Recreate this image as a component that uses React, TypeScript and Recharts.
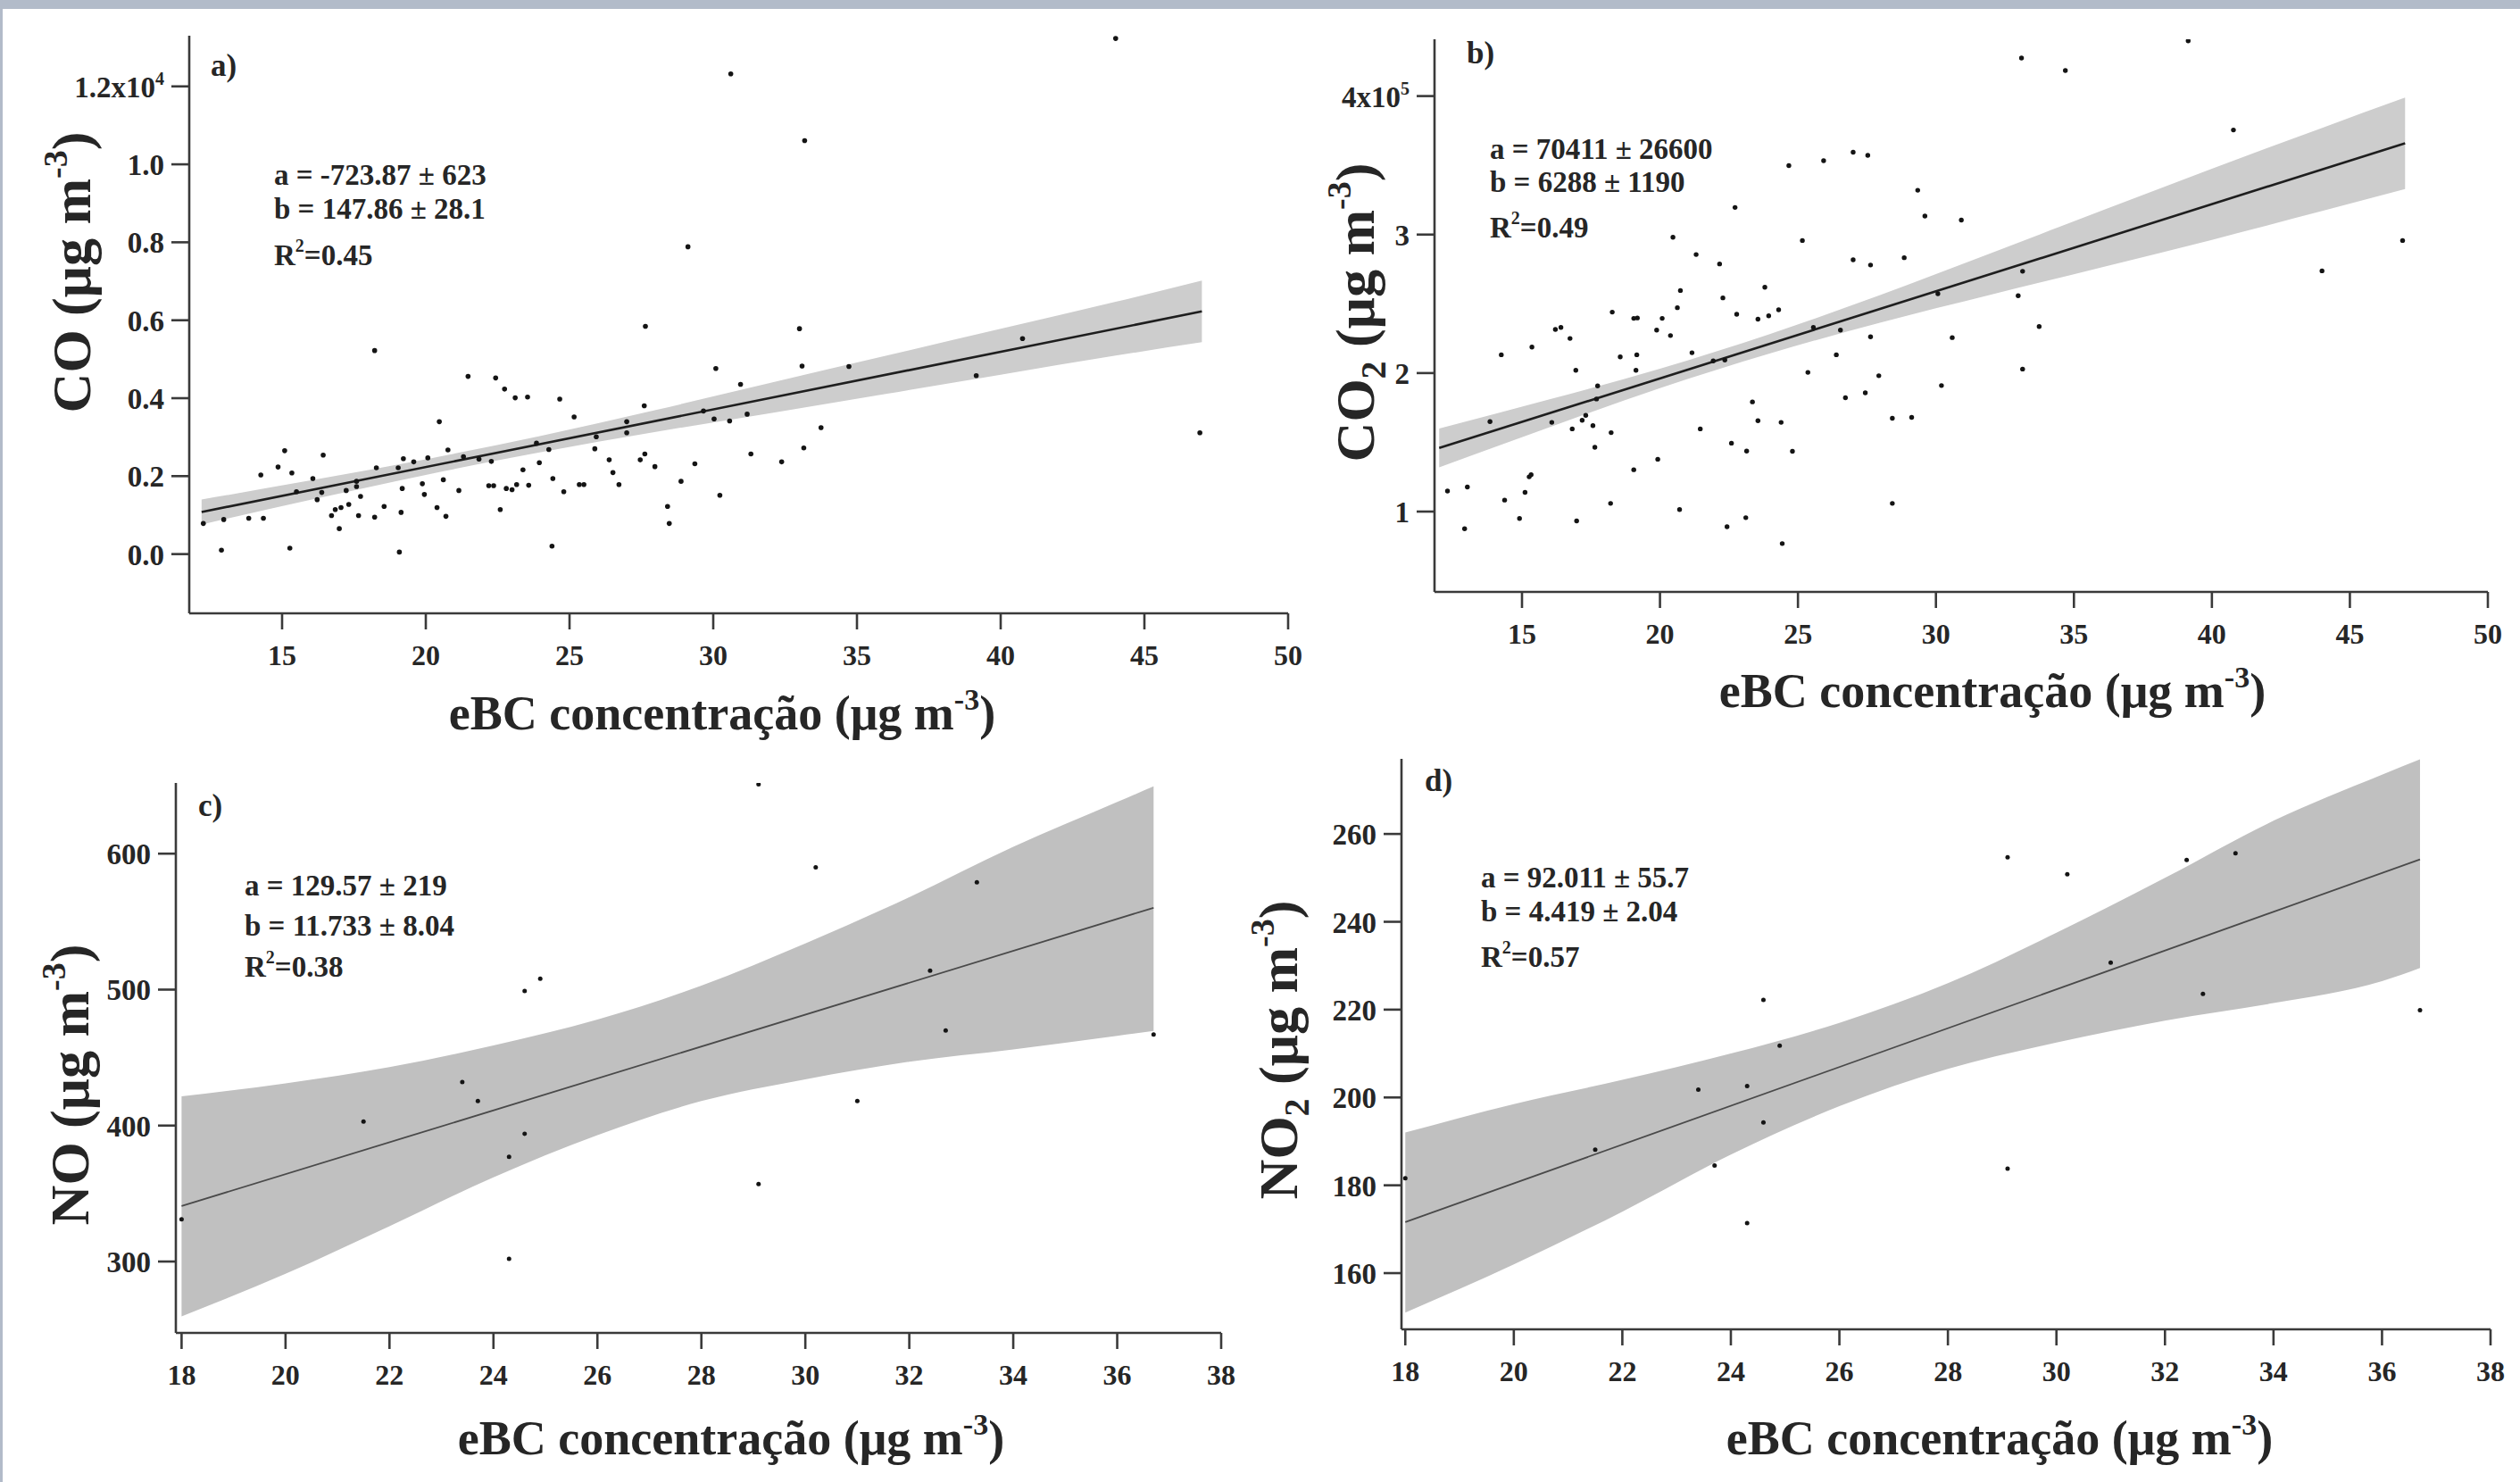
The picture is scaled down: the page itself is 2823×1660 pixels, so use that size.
import React from "react";
import { ComposedChart, Scatter, Line, Area, XAxis, YAxis } from "recharts";

const SERIF = "'Liberation Serif', 'Times New Roman', Times, serif";
const INK = "#262626";
const AXIS = "#3a3a3a";
const FRAME = "#b2bbc9";

// a) CO vs eBC
const ebcCO = [
  12.26, 12.89, 12.97, 13.84, 14.35, 14.26, 14.86, 15.09, 15.27, 15.34,
  15.5, 16.07, 16.22, 16.38, 16.43, 16.72, 16.85, 16.99, 17.05, 17.23,
  17.32, 17.59, 17.66, 17.73, 17.59, 18.22, 18.22, 18.28, 18.55, 19.04,
  19.08, 19.14, 19.18, 19.22, 19.58, 19.88, 19.95, 20.07, 20.39, 20.47,
  20.61, 20.7, 20.77, 21.15, 21.31, 21.47, 21.85, 22.19, 22.28, 22.36,
  22.43, 22.59, 22.74, 22.8, 23.0, 23.11, 23.16, 23.38, 23.54, 23.58,
  23.85, 23.95, 24.28, 24.39, 24.42, 24.66, 24.8, 25.16, 25.34, 25.5,
  25.88, 25.93, 26.38, 26.51, 26.72, 26.99, 26.99, 27.46, 27.6, 27.64,
  27.62, 27.97, 28.41, 28.47, 28.88, 29.12, 29.36, 29.66, 30.03, 30.09,
  30.23, 30.57, 30.61, 30.95, 31.18, 31.31, 32.38, 33.15, 33.75, 33.18,
  33.0, 33.09, 34.72, 39.15, 40.76, 44.0, 46.93,
];
const coValues = [
  785, 102, 887, 918, 918, 2030, 2234, 2652, 153, 2081,
  1601, 1938, 1397, 1581, 2540, 989, 1142, 653, 1193, 1632,
  1275, 1867, 989, 1479, 1734, 5222, 949, 2213, 1224, 2213,
  51, 1071, 1683, 2448, 2366, 1805, 1530, 2468, 1193, 3397,
  1907, 969, 2672, 1632, 2499, 4559, 2438, 1754, 2377, 1754,
  4519, 1142, 4233, 1683, 1652, 4009, 1785, 2162, 4029, 1765,
  2846, 2346, 2683, 204, 1938, 3978, 1601, 3519, 1785, 1785,
  2703, 3009, 2417, 2091, 1785, 3397, 3111, 2417, 3805, 5845,
  2570, 2244, 1224, 785, 1867, 7885, 2315, 3672, 3468, 4763,
  1510, 3417, 12322, 4355, 3590, 2570, 2366, 2723, 3244, 10608,
  5783, 4825, 4814, 4580, 5528, 13229, 3111,
];
const coFitX = [12.2, 47];
const coFitY = [1080, 6226];
const coBandX = [12.2, 16, 20, 24, 28, 32, 36, 40, 44, 47];
const coBandLo = [760, 1392, 2033, 2615, 3136, 3618, 4109, 4601, 5092, 5436];
const coBandHi = [1400, 1892, 2433, 3035, 3696, 4398, 5089, 5781, 6472, 7016];

// b) CO2 vs eBC
const ebcCO2 = [
  12.3, 12.92, 13.02, 13.84, 14.25, 14.37, 14.91, 15.11, 15.26, 15.33,
  15.36, 16.08, 16.21, 16.41, 16.74, 16.82, 16.95, 16.98, 17.18, 17.31,
  17.57, 17.64, 17.7, 17.74, 18.21, 18.23, 18.27, 18.56, 19.05, 19.05,
  19.18, 19.16, 19.13, 19.92, 19.88, 20.08, 20.38, 20.47, 20.63, 20.71,
  20.74, 21.16, 21.31, 21.46, 21.93, 22.16, 22.28, 22.35, 22.43, 22.59,
  22.72, 22.78, 23.11, 23.14, 23.35, 23.55, 23.55, 23.8, 23.94, 24.3,
  24.39, 24.43, 24.67, 24.8, 25.16, 25.36, 25.56, 25.93, 26.39, 26.54,
  26.72, 27.0, 27.0, 27.44, 27.53, 27.63, 27.63, 27.93, 28.42, 28.42,
  28.85, 29.12, 29.34, 29.6, 30.07, 30.2, 30.59, 30.92, 32.98, 33.1,
  33.14, 33.14, 33.74, 34.69, 39.14, 40.78, 43.99, 46.91,
];
const co2Values = [
  114800, 87600, 117700, 165000, 213200, 108300, 95000, 113900, 125100, 126600,
  218800, 164400, 231500, 233000, 225000, 159700, 202000, 93200, 165900, 169500,
  162100, 146400, 181300, 190700, 105900, 157000, 244000, 211700, 130200, 239500,
  239800, 213200, 202000, 137800, 231000, 239500, 227100, 298100, 247200, 101500,
  259600, 214700, 285600, 159700, 208800, 278800, 254300, 209400, 89100, 149400,
  319600, 242500, 95600, 143700, 179200, 165600, 238900, 262000, 241300, 245700,
  164400, 76900, 349800, 143500, 295700, 200500, 233000, 353300, 213200, 231000,
  182200, 281800, 359500, 185700, 357200, 278000, 226200, 198100, 105900, 167400,
  283300, 168000, 332000, 313400, 257300, 191000, 225600, 310500, 255800, 427500,
  273500, 202900, 233600, 418400, 439900, 375500, 273800, 295700,
];
const co2FitX = [12, 47];
const co2FitY = [145867, 365947];
const co2BandX = [12, 16, 20, 24, 28, 32, 36, 40, 44, 47];
const co2BandLo = [131900, 161000, 189200, 214300, 236500, 256600, 276300, 296200, 317100, 332900];
const co2BandHi = [159900, 181000, 203200, 228300, 256500, 286600, 317300, 347600, 377100, 398900];

// c) NO and d) NO2 vs eBC (same sampling times)
const ebcHourly = [18.0, 21.5, 23.4, 23.7, 24.3, 24.3, 24.6, 24.6, 24.9, 29.1, 29.1, 30.2, 31.0, 32.4, 32.7, 33.3, 36.7];
const noValues = [331, 403, 432, 418, 377, 302, 499, 394, 508, 651, 357, 590, 418, 514, 470, 579, 467];
const no2Values = [181.6, 188.1, 201.8, 184.5, 202.6, 171.4, 222.2, 194.3, 211.8, 254.7, 183.8, 250.8, 230.7, 254.1, 223.6, 255.6, 219.9];

const hourlyFitX = [18, 36.7];
const noFitY = [340.8, 560.2];
const no2FitY = [171.6, 254.2];
const hourlyBandX = [18, 20, 22, 24, 26, 28, 30, 32, 34, 36, 36.7];
const noBandLo = [259.7, 291, 326, 362, 393, 418, 434, 447, 456, 466, 469.6];
const noBandHi = [421.5, 431, 443, 459, 478, 503, 534, 568, 605, 638, 649.5];
const no2BandLo = [151, 162, 174, 187, 198, 206.5, 212.5, 217.5, 221.5, 226.5, 229.5];
const no2BandHi = [192, 198.5, 204, 210, 217, 226, 237.5, 250, 263, 273.5, 277];

const pts = (xs: number[], ys: number[]) => xs.map((x, i) => ({ x, y: ys[i] }));
const bandRows = (xs: number[], lo: number[], hi: number[]) => xs.map((x, i) => ({ x, y: [lo[i], hi[i]] }));

type Box = { left: number; top: number; right: number; bottom: number };

const YW = 190;
const XH = 80;
const MT = 8;
const MR = 34;

function yTick(fmt: (v: number) => [string, string?]) {
  return (props: any) => {
    const { x, y, payload } = props;
    const [main, sup] = fmt(payload.value);
    return (
      <text x={x} y={y} dy={12} textAnchor="end" fontFamily={SERIF} fontWeight="bold" fontSize={33} fill={INK}>
        {main}
        {sup ? (
          <tspan dy={-14} fontSize={20}>
            {sup}
          </tspan>
        ) : null}
      </text>
    );
  };
}

function Panel(p: {
  box: Box;
  xDomain: [number, number];
  xTicks: number[];
  yDomain: [number, number];
  yTicks: number[];
  fmt: (v: number) => [string, string?];
  points: any[];
  fit: any[];
  band: any[];
  bandFill: string;
  lineColor: string;
  lineWidth: number;
  dotR: number;
}) {
  const width = p.box.right - p.box.left + YW + MR;
  const height = p.box.bottom - p.box.top + MT + XH;
  const axisStyle = { stroke: AXIS, strokeWidth: 2.6 };
  return (
    <div style={{ position: "absolute", left: p.box.left - YW, top: p.box.top - MT }}>
      <ComposedChart width={width} height={height} margin={{ top: MT, right: MR, bottom: 0, left: 0 }}>
        <XAxis
          type="number"
          dataKey="x"
          domain={p.xDomain}
          ticks={p.xTicks}
          interval={0}
          allowDataOverflow
          height={XH}
          tickSize={18}
          tickMargin={17}
          axisLine={axisStyle}
          tickLine={axisStyle}
          tick={{ fontFamily: SERIF, fontWeight: "bold", fontSize: 32, fill: INK }}
        />
        <YAxis
          type="number"
          dataKey="y"
          domain={p.yDomain}
          ticks={p.yTicks}
          interval={0}
          allowDataOverflow
          width={YW}
          tickSize={20}
          tickMargin={8}
          axisLine={axisStyle}
          tickLine={axisStyle}
          tick={yTick(p.fmt)}
        />
        <Area data={p.band} dataKey="y" type="monotone" stroke="none" fill={p.bandFill} fillOpacity={1} isAnimationActive={false} />
        <Line
          data={p.fit}
          dataKey="y"
          type="linear"
          stroke={p.lineColor}
          strokeWidth={p.lineWidth}
          dot={false}
          activeDot={false}
          isAnimationActive={false}
        />
        <Scatter
          data={p.points}
          dataKey="y"
          isAnimationActive={false}
          shape={(s: any) => <circle cx={s.cx} cy={s.cy} r={p.dotR} fill="#141414" />}
        />
      </ComposedChart>
    </div>
  );
}

function Stats({ x, ys, a, b, r2 }: { x: number; ys: number[]; a: string; b: string; r2: string }) {
  const common = { fontFamily: SERIF, fontWeight: "bold" as const, fontSize: 33, fill: INK };
  return (
    <g>
      <text x={x} y={ys[0]} {...common}>{a}</text>
      <text x={x} y={ys[1]} {...common}>{b}</text>
      <text x={x} y={ys[2]} {...common}>
        R<tspan dy={-15} fontSize={20}>2</tspan>
        <tspan dy={15}>{r2}</tspan>
      </text>
    </g>
  );
}

function YTitle({ cx, cy, species, sub }: { cx: number; cy: number; species: string; sub?: string }) {
  return (
    <text
      transform={`translate(${cx},${cy}) rotate(-90)`}
      textAnchor="middle"
      dy={21}
      fontFamily={SERIF}
      fontWeight="bold"
      fontSize={62}
      fill={INK}
    >
      {species}
      {sub ? (
        <tspan dy={13} fontSize={40}>
          {sub}
        </tspan>
      ) : null}
      <tspan dy={sub ? -13 : 0}> (μg m</tspan>
      <tspan dy={-26} fontSize={38}>-3</tspan>
      <tspan dy={26}>)</tspan>
    </text>
  );
}

function XTitle({ cx, y }: { cx: number; y: number }) {
  return (
    <text x={cx} y={y} textAnchor="middle" fontFamily={SERIF} fontWeight="bold" fontSize={54} fill={INK}>
      eBC concentração (μg m<tspan dy={-22} fontSize={34}>-3</tspan>
      <tspan dy={22}>)</tspan>
    </text>
  );
}

function Letter({ x, y, t }: { x: number; y: number; t: string }) {
  return (
    <text x={x} y={y} fontFamily={SERIF} fontWeight="bold" fontSize={35} fill={INK}>
      {t}
    </text>
  );
}

const coFmt = (v: number): [string, string?] => (v === 12000 ? ["1.2x10", "4"] : [(v / 10000).toFixed(1)]);
const co2Fmt = (v: number): [string, string?] => (v === 400000 ? ["4x10", "5"] : [String(v / 100000)]);
const plainFmt = (v: number): [string, string?] => [String(v)];

export default function App() {
  return (
    <div style={{ position: "absolute", left: 0, top: 0, width: 2823, height: 1660, background: "#fff", overflow: "hidden" }}>
      <div style={{ position: "absolute", left: 0, top: 0, width: 2823, height: 10, background: FRAME }} />
      <div style={{ position: "absolute", left: 0, top: 0, width: 3, height: 1660, background: FRAME }} />

      <Panel
        box={{ left: 212, top: 40, right: 1443, bottom: 687 }}
        xDomain={[11.77, 50]}
        xTicks={[15, 20, 25, 30, 35, 40, 45, 50]}
        yDomain={[-1520, 13300]}
        yTicks={[0, 2000, 4000, 6000, 8000, 10000, 12000]}
        fmt={coFmt}
        points={pts(ebcCO, coValues)}
        fit={pts(coFitX, coFitY)}
        band={bandRows(coBandX, coBandLo, coBandHi)}
        bandFill="#cdcdcd"
        lineColor="#1e1e1e"
        lineWidth={2.6}
        dotR={2.8}
      />
      <Panel
        box={{ left: 1607, top: 44, right: 2787, bottom: 663 }}
        xDomain={[11.83, 50]}
        xTicks={[15, 20, 25, 30, 35, 40, 45, 50]}
        yDomain={[42000, 441000]}
        yTicks={[100000, 200000, 300000, 400000]}
        fmt={co2Fmt}
        points={pts(ebcCO2, co2Values)}
        fit={pts(co2FitX, co2FitY)}
        band={bandRows(co2BandX, co2BandLo, co2BandHi)}
        bandFill="#cdcdcd"
        lineColor="#1e1e1e"
        lineWidth={2.6}
        dotR={2.7}
      />
      <Panel
        box={{ left: 197, top: 877, right: 1368, bottom: 1493 }}
        xDomain={[17.89, 38]}
        xTicks={[18, 20, 22, 24, 26, 28, 30, 32, 34, 36, 38]}
        yDomain={[247.5, 652]}
        yTicks={[300, 400, 500, 600]}
        fmt={plainFmt}
        points={pts(ebcHourly, noValues)}
        fit={pts(hourlyFitX, noFitY)}
        band={bandRows(hourlyBandX, noBandLo, noBandHi)}
        bandFill="#c0c0c0"
        lineColor="#4a4a4a"
        lineWidth={1.8}
        dotR={2.5}
      />
      <Panel
        box={{ left: 1570, top: 850, right: 2790, bottom: 1489 }}
        xDomain={[17.93, 38]}
        xTicks={[18, 20, 22, 24, 26, 28, 30, 32, 34, 36, 38]}
        yDomain={[147.2, 277.1]}
        yTicks={[160, 180, 200, 220, 240, 260]}
        fmt={plainFmt}
        points={pts(ebcHourly, no2Values)}
        fit={pts(hourlyFitX, no2FitY)}
        band={bandRows(hourlyBandX, no2BandLo, no2BandHi)}
        bandFill="#c0c0c0"
        lineColor="#4a4a4a"
        lineWidth={1.8}
        dotR={2.5}
      />

      <svg width={2823} height={1660} style={{ position: "absolute", left: 0, top: 0, pointerEvents: "none" }}>
        <Letter x={236} y={85} t="a)" />
        <Letter x={1643} y={71} t="b)" />
        <Letter x={222} y={914} t="c)" />
        <Letter x={1596} y={886} t="d)" />

        <Stats x={307} ys={[207, 245, 297]} a="a = -723.87 ± 623" b="b = 147.86 ± 28.1" r2="=0.45" />
        <Stats x={1669} ys={[178, 215, 266]} a="a = 70411 ± 26600" b="b = 6288 ± 1190" r2="=0.49" />
        <Stats x={274} ys={[1003, 1048, 1094]} a="a = 129.57 ± 219" b="b = 11.733 ± 8.04" r2="=0.38" />
        <Stats x={1659} ys={[994, 1032, 1083]} a="a = 92.011 ± 55.7" b="b = 4.419 ± 2.04" r2="=0.57" />

        <YTitle cx={80} cy={305} species="CO" />
        <YTitle cx={1518} cy={350} species="CO" sub="2" />
        <YTitle cx={78} cy={1215} species="NO" />
        <YTitle cx={1432} cy={1176} species="NO" sub="2" />

        <XTitle cx={809} y={817} />
        <XTitle cx={2232} y={792} />
        <XTitle cx={819} y={1629} />
        <XTitle cx={2240} y={1629} />
      </svg>
    </div>
  );
}
